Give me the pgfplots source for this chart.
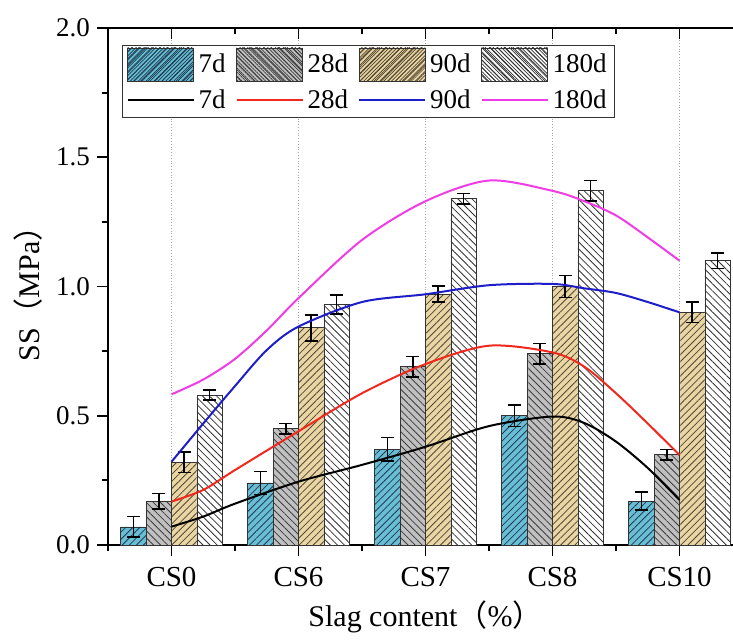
\documentclass[border=0pt]{standalone}
\usepackage{fontspec}
\setmainfont{Liberation Serif}
\newfontfamily\cjk{Noto Sans CJK SC}
\usepackage{pgfplots}
\usepackage{pgfplotstable}
\pgfplotsset{compat=1.18}
\usetikzlibrary{patterns.meta}

\definecolor{fillA}{RGB}{105,190,214}
\definecolor{hatchA}{RGB}{30,60,80}
\definecolor{fillB}{RGB}{192,192,192}
\definecolor{hatchB}{RGB}{60,60,60}
\definecolor{fillC}{RGB}{234,214,164}
\definecolor{hatchC}{RGB}{80,70,50}
\definecolor{hatchD}{RGB}{50,50,50}
\definecolor{lnRed}{RGB}{240,40,30}
\definecolor{lnBlue}{RGB}{30,30,200}
\definecolor{lnMag}{RGB}{240,60,230}

% strength means and error bars per curing age
\pgfplotstableread{
x y e
0 0.07 0.04
1 0.24 0.045
2 0.37 0.046
3 0.50 0.042
4 0.17 0.035
}\tSeven
\pgfplotstableread{
x y e
0 0.17 0.03
1 0.45 0.02
2 0.69 0.04
3 0.74 0.04
4 0.35 0.02
}\tTwentyEight
\pgfplotstableread{
x y e
0 0.32 0.04
1 0.84 0.05
2 0.97 0.031
3 1.00 0.042
4 0.90 0.04
}\tNinety
\pgfplotstableread{
x y e
0 0.58 0.02
1 0.93 0.037
2 1.34 0.02
3 1.37 0.04
4 1.10 0.03
}\tOneEighty

\pgfplotsset{
  lineleg/.style={legend image code/.code={\draw[##1] (0pt,0pt) -- (33pt,0pt);}},
  % hatched bar: fill colour, hatch angle, hatch colour
  hbar/.style n args={3}{ybar, bar width=0.2, bar shift=0, fill=#1, draw=black!80, line width=0.4pt,
    postaction={pattern={Lines[angle=#2,distance=2.5pt,line width=0.4pt]}, pattern color=#3},
    legend image code/.code={\draw[fill=#1, draw=black!80, line width=0.4pt,
      postaction={pattern={Lines[angle=#2,distance=1.4pt,line width=0.35pt]}, pattern color=#3}]
      (0pt,-8.25pt) rectangle (33pt,8.25pt);}},
  ebar/.style={error bars/.cd, y dir=both, y explicit,
    error bar style={line width=0.8pt, black},
    error mark options={rotate=90, mark size=3.2pt, line width=0.8pt, black}},
}

\begin{document}
\begin{tikzpicture}
\begin{axis}[
  scale only axis, width=317.5pt, height=258.5pt,
  xmin=-0.5, xmax=4.5, ymin=0, ymax=2,
  xtick={0,1,2,3,4}, xticklabels={CS0,CS6,CS7,CS8,CS10},
  minor xtick={-0.5,0.5,1.5,2.5,3.5,4.5},
  ytick={0,0.5,1,1.5,2}, minor ytick={0.25,0.75,1.25,1.75},
  yticklabel style={/pgf/number format/.cd, fixed, fixed zerofill, precision=1, assume math mode=true},
  tick pos=left, tick align=outside,
  major tick length=5.5pt, minor tick length=3pt,
  every tick/.style={black, line width=0.9pt},
  axis line style={line width=0.9pt},
  xmajorgrids, major x grid style={densely dotted, gray!70, line width=0.5pt},
  ticklabel style={font=\fontsize{13.5}{15}\selectfont},
  xticklabel style={font=\fontsize{14.5}{16}\selectfont, yshift=-2pt},
  xlabel={Slag content{\cjk （}\%{\cjk ）}},
  ylabel={SS{\cjk （}MPa{\cjk ）}},
  label style={font=\fontsize{15}{17}\selectfont},
  legend columns=4,
  legend cell align=left,
  legend style={at={(rel axis cs:0,1)}, anchor=north west, xshift=7pt, yshift=-8.5pt,
    font=\fontsize{13.5}{15}\selectfont, draw=black!80, line width=0.5pt,
    inner xsep=2pt, inner ysep=1pt, row sep=2pt,
    /tikz/every even column/.append style={column sep=3pt}},
]
\addplot[hbar={fillA}{45}{hatchA}, ebar]
  table[x expr=\thisrow{x}-0.3, y=y, y error=e] {\tSeven};
\addplot[hbar={fillB}{-45}{hatchB}, ebar]
  table[x expr=\thisrow{x}-0.1, y=y, y error=e] {\tTwentyEight};
\addplot[hbar={fillC}{45}{hatchC}, ebar]
  table[x expr=\thisrow{x}+0.1, y=y, y error=e] {\tNinety};
\addplot[hbar={white}{-45}{hatchD}, ebar]
  table[x expr=\thisrow{x}+0.3, y=y, y error=e] {\tOneEighty};

% smoothed trend curves
\addplot[black, line width=1pt, smooth, lineleg] coordinates {
  (0,0.071) (0.25,0.11) (0.5,0.16) (1,0.245) (1.5,0.31) (2,0.38) (2.5,0.46) (3,0.497)
  (3.25,0.472) (3.5,0.40) (3.75,0.298) (4,0.174)};
\addplot[lnRed, line width=1pt, smooth, lineleg] coordinates {
  (0,0.168) (0.25,0.213) (0.5,0.29) (1,0.44) (1.5,0.587) (2,0.70) (2.5,0.771) (3,0.745)
  (3.25,0.69) (3.5,0.587) (3.75,0.47) (4,0.348)};
\addplot[lnBlue, line width=1pt, smooth, lineleg] coordinates {
  (0,0.322) (0.25,0.47) (0.5,0.615) (0.75,0.754) (1,0.845) (1.5,0.94) (2,0.97) (2.5,1.005)
  (3,1.01) (3.25,0.993) (3.5,0.975) (3.75,0.94) (4,0.90)};
\addplot[lnMag, line width=1pt, smooth, lineleg] coordinates {
  (0,0.583) (0.25,0.64) (0.5,0.72) (0.75,0.83) (1,0.955) (1.5,1.18) (2,1.33) (2.5,1.41) (3,1.37)
  (3.25,1.33) (3.5,1.275) (3.75,1.19) (4,1.10)};

\legend{7d,28d,90d,180d,7d,28d,90d,180d}
\coordinate (o) at (rel axis cs:0,0);
\end{axis}
% inward ticks along the top edge
\begin{axis}[
  scale only axis, width=317.5pt, height=258.5pt,
  xmin=-0.5, xmax=4.5, ymin=0, ymax=2,
  xtick={0,1,2,3,4}, minor xtick={-0.5,0.5,1.5,2.5,3.5,4.5},
  xticklabels={}, ytick=\empty,
  xtick pos=right, tick align=inside,
  major tick length=5.5pt, minor tick length=3pt,
  every tick/.style={black, line width=0.9pt},
  axis line style={draw=none},
]
\end{axis}
\pgfresetboundingbox
\useasboundingbox ([shift={(-54pt,-47pt)}]o) rectangle ([shift={(312.5pt,272.5pt)}]o);
\end{tikzpicture}
\end{document}
